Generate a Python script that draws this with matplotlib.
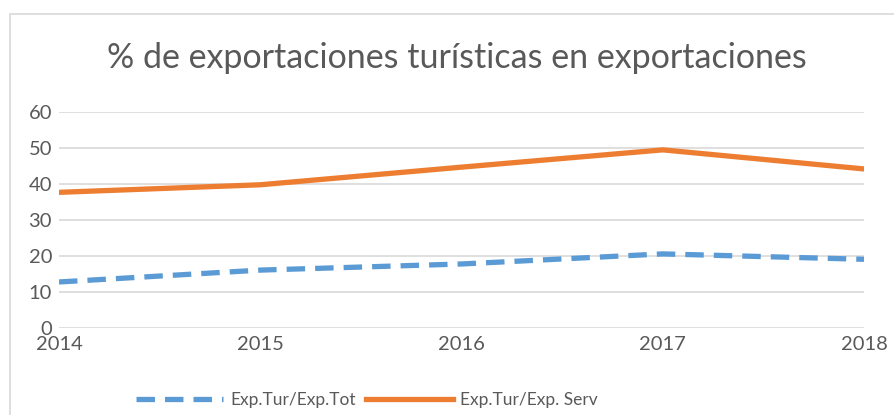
import matplotlib
matplotlib.use('Agg')
import matplotlib.pyplot as plt
from matplotlib.patches import Rectangle

# data
years = [2014, 2015, 2016, 2017, 2018]
exp_tur_tot = [12.7, 16.0, 17.7, 20.5, 19.0]
exp_tur_serv = [37.6, 39.7, 44.6, 49.4, 44.1]
title = '% de exportaciones turísticas en exportaciones'
label_tot = 'Exp.Tur/Exp.Tot'
label_serv = 'Exp.Tur/Exp. Serv'

plt.rcParams['font.family'] = ['Lato', 'DejaVu Sans']
text_col = '#595959'
blue = '#5b9bd5'
orange = '#ed7d31'

fig = plt.figure(figsize=(8.94, 4.15), dpi=100)
ax = fig.add_axes([59 / 894, 1 - 327.7 / 415, (864 - 59) / 894, (327.7 - 111.7) / 415])

# outer chart frame
fig.patches.append(Rectangle((10 / 894, -0.1), 1.0, 1 - 14 / 415 + 0.1, transform=fig.transFigure,
                             fill=False, edgecolor='#d9d9d9', linewidth=1.2))

ax.plot(years, exp_tur_tot, color=blue, linewidth=3.8, linestyle=(0, (3.5, 1.9)),
        label=label_tot, dash_capstyle='butt')
ax.plot(years, exp_tur_serv, color=orange, linewidth=3.8, label=label_serv,
        solid_joinstyle='miter')

ax.set_xlim(2014, 2018)
ax.set_ylim(0, 60)
ax.set_yticks(range(0, 61, 10))
ax.set_xticks(years)
ax.grid(axis='y', color='#d9d9d9', linewidth=1.2)
ax.set_axisbelow(True)
for s in ax.spines.values():
    s.set_visible(False)
ax.tick_params(length=0, labelsize=14.5, labelcolor=text_col)
ax.tick_params(axis='x', pad=6)
ax.tick_params(axis='y', pad=5)

fig.text(457 / 894, 1 - 58 / 415, title, ha='center', va='center', fontsize=24.5, color=text_col)

fig.legend(loc='center', bbox_to_anchor=(367 / 894, 1 - 400 / 415), ncol=2, frameon=False,
           fontsize=12.5, labelcolor=text_col, handlelength=5.0, columnspacing=0.6, handletextpad=0.4)

fig.savefig('out.png', dpi=100, facecolor='white')
